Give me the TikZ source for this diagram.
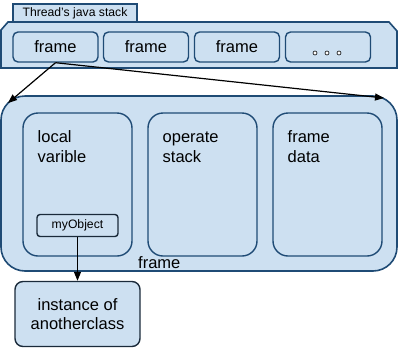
\documentclass[tikz,border=0pt]{standalone}
\usepackage{fontspec}
\setmainfont{Liberation Sans}
\usetikzlibrary{arrows.meta}
\definecolor{boxfill}{HTML}{CDE0F1}
\definecolor{boxline}{HTML}{1F4B75}
\definecolor{darkline}{HTML}{1A2A3A}
\begin{document}
\begin{tikzpicture}[x=1pt,y=-1pt,
  panel/.style={draw=boxline,fill=boxfill,line width=1.6pt},
  cell/.style={draw=boxline,fill=boxfill,line width=1.4pt,rounded corners=5pt,
    minimum width=85pt,minimum height=30pt,inner sep=0pt,font=\fontsize{16.5}{19.5}\selectfont},
  part/.style={draw=boxline,fill=boxfill,line width=1.4pt,rounded corners=15pt},
  lbl/.style={anchor=base west,inner sep=0pt,font=\fontsize{16.5}{19.5}\selectfont,align=left},
  arr/.style={-{Triangle[length=9pt,width=7pt]},line width=1.2pt,black}]
\useasboundingbox (0,0) rectangle (400,349);
% thread stack
\node[panel,line width=1.2pt,minimum width=124pt,minimum height=18pt,inner sep=0pt,
  font=\fontsize{12.2}{14}\selectfont] (tab) at (75,13) {Thread's java stack};
\draw[panel] (1,30) -- (8,22) -- (389,22) -- (397,31) -- (397,68) -- (1,68) -- cycle;
\node[cell] (f1) at (55.5,47) {frame};
\node[cell] (f2) at (146,47) {frame};
\node[cell] (f3) at (237,47) {frame};
\node[cell] (f4) at (328,47) {};
\foreach \i in {0,1,2} \draw[line width=0.6pt,draw=black,fill=white] (315+12*\i,53) circle (2pt);
% expanded frame
\draw[panel,rounded corners=24pt] (1,96) rectangle (397,271);
\coordinate (tl) at (8,103);
\coordinate (tr) at (384,98);
\draw[arr] (f1.south) -- (tl);
\draw[arr] (f1.south) -- (tr);
\draw[part] (23,113) rectangle (132,256);
\draw[part] (148,113) rectangle (257,256);
\draw[part] (273,113) rectangle (382,256);
\node[lbl] (lv) at (37.5,162) {local\\varible};
\node[lbl] (os) at (162.5,162) {operate\\stack};
\node[lbl] (fd) at (287.5,162) {frame\\data};
\node[lbl] (fr) at (138,268.5) {frame};
\node[draw=darkline,fill=boxfill,line width=1.4pt,rounded corners=3pt,minimum width=81pt,
  minimum height=22pt,inner sep=0pt,font=\fontsize{12.2}{14}\selectfont] (obj) at (77.5,225.5) {myObject};
\node[draw=darkline,fill=boxfill,line width=1.4pt,rounded corners=8pt,minimum width=125pt,
  minimum height=65pt,inner sep=0pt,align=center,font=\fontsize{16.5}{19.5}\selectfont] (inst) at (77.5,314) {instance of\\anotherclass};
\draw[arr] (obj.south) -- (inst.north);
\end{tikzpicture}
\end{document}
